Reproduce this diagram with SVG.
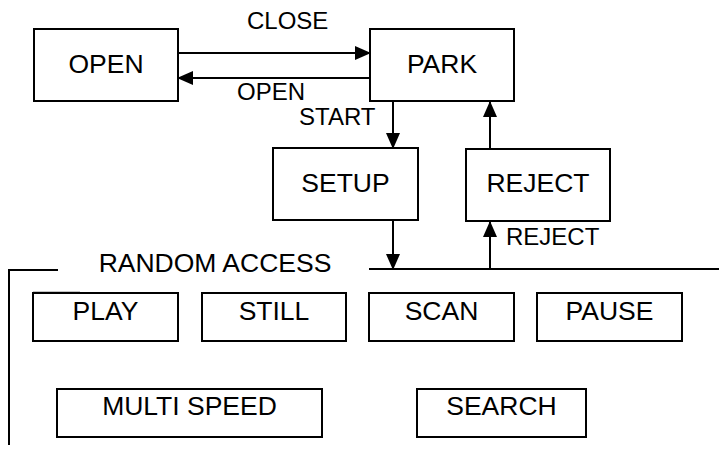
<svg xmlns="http://www.w3.org/2000/svg" width="719" height="455" viewBox="0 0 719 455">
  <style>
    .box { fill: #fff; stroke: #000; stroke-width: 2; }
    .line { fill: none; stroke: #000; stroke-width: 2; }
    .t { font-family: "Liberation Sans", Arial, sans-serif; font-size: 26.5px; fill: #000; text-anchor: middle; }
    .lbl { font-family: "Liberation Sans", Arial, sans-serif; font-size: 24px; fill: #000; }
  </style>
  <defs>
    <marker id="arrow" markerUnits="userSpaceOnUse" markerWidth="16" markerHeight="14" refX="15" refY="7" orient="auto">
      <path d="M0,0 L16,7 L0,14 Z" fill="#000"/>
    </marker>
  </defs>
  <rect width="719" height="455" fill="#fff"/>

  <!-- connectors -->
  <g id="connectors">
    <line class="line" x1="178" y1="53" x2="370" y2="53" marker-end="url(#arrow)"/>
    <line class="line" x1="370" y1="78" x2="178" y2="78" marker-end="url(#arrow)"/>
    <line class="line" x1="393" y1="101" x2="393" y2="148" marker-end="url(#arrow)"/>
    <line class="line" x1="490" y1="149" x2="490" y2="102" marker-end="url(#arrow)"/>
    <line class="line" x1="393" y1="220" x2="393" y2="269" marker-end="url(#arrow)"/>
    <line class="line" x1="490" y1="269" x2="490" y2="222" marker-end="url(#arrow)"/>
    <!-- random access frame -->
    <line class="line" x1="369" y1="269" x2="719" y2="269"/>
    <polyline class="line" points="58,270 9,270 9,445"/>
    <line x1="33" y1="292" x2="80" y2="292" stroke="#888" stroke-width="1"/>
    <text class="lbl" x="247" y="29">CLOSE</text>
    <text class="lbl" x="237" y="100">OPEN</text>
    <text class="lbl" x="299" y="125">START</text>
    <text class="lbl" x="506" y="245">REJECT</text>
    <text class="t" x="215" y="272">RANDOM ACCESS</text>
  </g>

  <g id="open">
    <rect class="box" x="34" y="29" width="144" height="72"/>
    <text class="t" x="106" y="73">OPEN</text>
  </g>
  <g id="park">
    <rect class="box" x="370" y="29" width="144" height="72"/>
    <text class="t" x="442" y="73">PARK</text>
  </g>
  <g id="setup">
    <rect class="box" x="273" y="148" width="145" height="72"/>
    <text class="t" x="345.5" y="192">SETUP</text>
  </g>
  <g id="reject">
    <rect class="box" x="466" y="149" width="144" height="72"/>
    <text class="t" x="538" y="192">REJECT</text>
  </g>
  <g id="play">
    <rect class="box" x="33" y="293" width="145" height="48"/>
    <text class="t" x="105.5" y="320">PLAY</text>
  </g>
  <g id="still">
    <rect class="box" x="202" y="293" width="144" height="48"/>
    <text class="t" x="274" y="320">STILL</text>
  </g>
  <g id="scan">
    <rect class="box" x="369" y="293" width="145" height="48"/>
    <text class="t" x="441.5" y="320">SCAN</text>
  </g>
  <g id="pause">
    <rect class="box" x="537" y="293" width="145" height="48"/>
    <text class="t" x="609.5" y="320">PAUSE</text>
  </g>
  <g id="multi-speed">
    <rect class="box" x="57" y="389" width="265" height="48"/>
    <text class="t" x="189.5" y="415">MULTI SPEED</text>
  </g>
  <g id="search">
    <rect class="box" x="417" y="389" width="169" height="48"/>
    <text class="t" x="501.5" y="415">SEARCH</text>
  </g>
</svg>
